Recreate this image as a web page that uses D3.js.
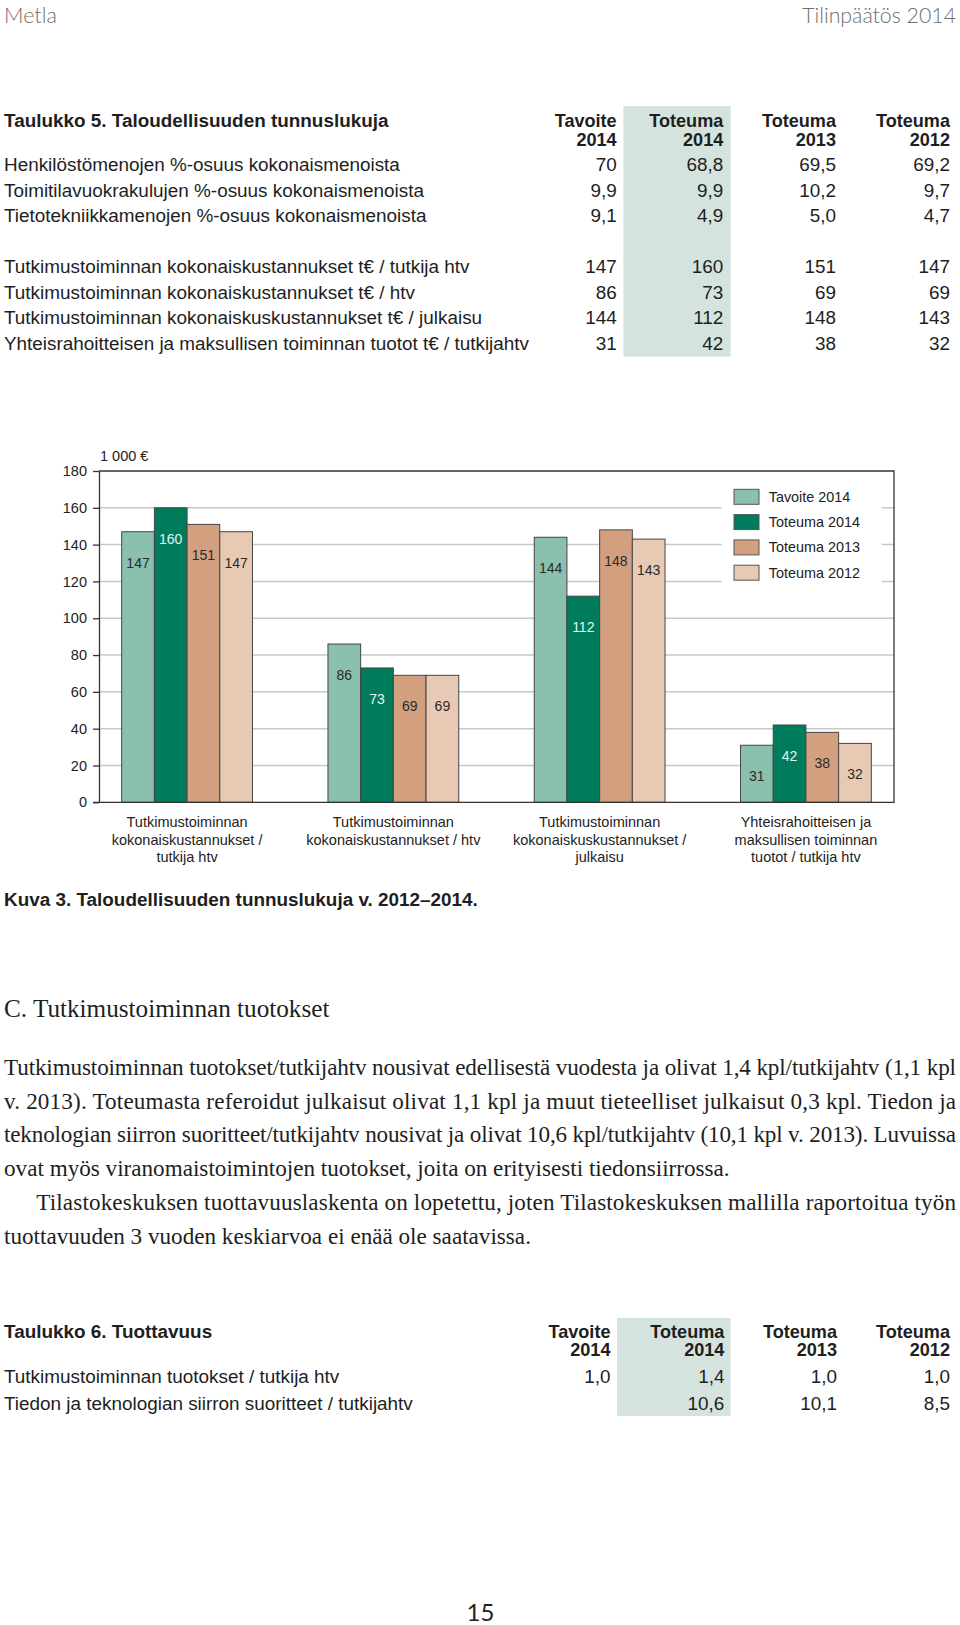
<!DOCTYPE html>
<html><head><meta charset="utf-8">
<script src="https://cdn.jsdelivr.net/npm/d3@7/dist/d3.min.js"></script>
<style>body{margin:0;background:#fff}svg{display:block}</style>
</head><body>
<svg id="page" width="960" height="1625"></svg>
<script>
// ---------- DATA ----------
const categories = [
  ["Tutkimustoiminnan","kokonaiskustannukset /","tutkija htv"],
  ["Tutkimustoiminnan","kokonaiskustannukset / htv"],
  ["Tutkimustoiminnan","kokonaiskuskustannukset /","julkaisu"],
  ["Yhteisrahoitteisen ja","maksullisen toiminnan","tuotot / tutkija htv"]
];
const seriesNames = ["Tavoite 2014","Toteuma 2014","Toteuma 2013","Toteuma 2012"];
const tavoite2014 = [147, 86, 144, 31];
const toteuma2014 = [160, 73, 112, 42];
const toteuma2013 = [151, 69, 148, 38];
const toteuma2012 = [147, 69, 143, 32];
const yTicks = [0,20,40,60,80,100,120,140,160,180];
const yUnit = "1 000 €";
const seriesColors = ["#8bbfae","#007b5c","#d3a07f","#e8cab4"];
const labelColors = ["#2a2a2a","#e2f6f0","#2a2a2a","#2a2a2a"];

const table5Title = "Taulukko 5. Taloudellisuuden tunnuslukuja";
const tableHeader = [["Tavoite","2014"],["Toteuma","2014"],["Toteuma","2013"],["Toteuma","2012"]];
const table5Labels = [
  "Henkilöstömenojen %-osuus kokonaismenoista",
  "Toimitilavuokrakulujen %-osuus kokonaismenoista",
  "Tietotekniikkamenojen %-osuus kokonaismenoista",
  null,
  "Tutkimustoiminnan kokonaiskustannukset t€ / tutkija htv",
  "Tutkimustoiminnan kokonaiskustannukset t€ / htv",
  "Tutkimustoiminnan kokonaiskuskustannukset t€ / julkaisu",
  "Yhteisrahoitteisen ja maksullisen toiminnan tuotot t€ / tutkijahtv"
];
const table5Values = [
  ["70","68,8","69,5","69,2"],
  ["9,9","9,9","10,2","9,7"],
  ["9,1","4,9","5,0","4,7"],
  null,
  ["147","160","151","147"],
  ["86","73","69","69"],
  ["144","112","148","143"],
  ["31","42","38","32"]
];
const table6Title = "Taulukko 6. Tuottavuus";
const table6Labels = [
  "Tutkimustoiminnan tuotokset / tutkija htv",
  "Tiedon ja teknologian siirron suoritteet / tutkijahtv"
];
const table6Values = [
  ["1,0","1,4","1,0","1,0"],
  ["","10,6","10,1","8,5"]
];
const figCaption = "Kuva 3. Taloudellisuuden tunnuslukuja v. 2012–2014.";
const sectionTitle = "C. Tutkimustoiminnan tuotokset";
const bodyLines = [
  {t:"Tutkimustoiminnan tuotokset/tutkijahtv nousivat edellisestä vuodesta ja olivat 1,4 kpl/tutkijahtv (1,1 kpl", just:true, indent:false},
  {t:"v. 2013). Toteumasta referoidut julkaisut olivat 1,1 kpl ja muut tieteelliset julkaisut 0,3 kpl. Tiedon ja", just:true, indent:false},
  {t:"teknologian siirron suoritteet/tutkijahtv nousivat ja olivat 10,6 kpl/tutkijahtv (10,1 kpl v. 2013). Luvuissa", just:true, indent:false},
  {t:"ovat myös viranomaistoimintojen tuotokset, joita on erityisesti tiedonsiirrossa.", just:false, indent:false},
  {t:"Tilastokeskuksen tuottavuuslaskenta on lopetettu, joten Tilastokeskuksen mallilla raportoitua työn", just:true, indent:true},
  {t:"tuottavuuden 3 vuoden keskiarvoa ei enää ole saatavissa.", just:false, indent:false}
];

// ---------- PAGE ----------
const svg = d3.select("#page");
const SANS = "'Liberation Sans', Arial, Helvetica, sans-serif";
const NARROW = "'Liberation Sans Narrow', 'Arial Narrow', 'Liberation Sans', sans-serif";
const SERIF = "'Liberation Serif', 'Times New Roman', serif";
const TXT = "#1e1e1e";

// Running header
svg.append("text").attr("x",4).attr("y",22.7).text("Metla")
  .style("font-family","Lato, 'Open Sans', sans-serif").style("font-weight",300)
  .style("font-size","21.5px").attr("fill","#6e6e6e");
svg.append("text").attr("x",956).attr("y",22.7).attr("text-anchor","end").text("Tilinpäätös 2014")
  .style("font-family","Lato, 'Open Sans', sans-serif").style("font-weight",300)
  .style("font-size","21.3px").attr("fill","#6e6e6e");

// Tables
function drawTable(cfg){
  const g = svg.append("g");
  g.append("rect").attr("x",cfg.shade[0]).attr("y",cfg.shade[1])
    .attr("width",cfg.shade[2]-cfg.shade[0]).attr("height",cfg.shade[3]-cfg.shade[1])
    .attr("fill","#d5e3de");
  g.append("text").attr("x",4).attr("y",cfg.titleY).text(cfg.title)
    .style("font-family",SANS).style("font-weight","bold").style("font-size","18.9px").attr("fill",TXT);
  tableHeader.forEach((h,i)=>{
    h.forEach((s,j)=>{
      g.append("text").attr("x",cfg.cols[i]).attr("y",cfg.titleY + j*18.7)
        .attr("text-anchor","end").text(s)
        .style("font-family",SANS).style("font-weight","bold").style("font-size","18.1px").attr("fill",TXT);
    });
  });
  cfg.labels.forEach((lab,r)=>{
    if(lab===null) return;
    const yy = cfg.rowY0 + r*cfg.rowStep;
    g.append("text").attr("x",4).attr("y",yy).text(lab)
      .style("font-family",SANS).style("font-size","18.9px").attr("fill",TXT);
    cfg.values[r].forEach((v,i)=>{
      g.append("text").attr("x",cfg.cols[i]).attr("y",yy).attr("text-anchor","end").text(v)
        .style("font-family",SANS).style("font-size","18.9px").attr("fill",TXT);
    });
  });
}
drawTable({title:table5Title, titleY:127, cols:[616.7,723.3,836,950], shade:[623.4,106,730.7,356.6],
  labels:table5Labels, values:table5Values, rowY0:171.3, rowStep:25.5});
drawTable({title:table6Title, titleY:1337.5, cols:[610.5,724.4,837,950], shade:[617,1318,730.5,1416],
  labels:table6Labels, values:table6Values, rowY0:1383, rowStep:26.8});

// ---------- CHART ----------
const pLeft = 99, pRight = 894, pTop = 471, pBottom = 802.3;
const x0 = d3.scaleBand().domain(d3.range(categories.length)).range([pLeft,pRight])
  .paddingInner(0.366).paddingOuter(0.11);
const x1 = d3.scaleBand().domain(seriesNames).range([0,x0.bandwidth()]);
const y = d3.scaleLinear().domain([0,180]).range([pBottom,pTop]);
const seriesValues = [tavoite2014, toteuma2014, toteuma2013, toteuma2012];
const color = d3.scaleOrdinal().domain(seriesNames).range(seriesColors);

const chart = svg.append("g");
// gridlines
chart.append("g").selectAll("line").data(yTicks.filter(t=>t>0 && t<180)).join("line")
  .attr("x1",pLeft).attr("x2",pRight).attr("y1",d=>y(d)).attr("y2",d=>y(d))
  .attr("stroke","#c8c8c8").attr("stroke-width",1.5);
// legend background
const legX = 721.7, legY = pTop+1;
chart.append("rect").attr("x",legX).attr("y",legY).attr("width",160).attr("height",111).attr("fill","#fff");

// bars
const barData = [];
categories.forEach((c,ci)=>seriesNames.forEach((s,si)=>barData.push({ci,si,s,v:seriesValues[si][ci]})));
chart.append("g").selectAll("rect").data(barData).join("rect")
  .attr("x",d=>x0(d.ci)+x1(d.s)).attr("width",x1.bandwidth())
  .attr("y",d=>y(d.v)).attr("height",d=>y(0)-y(d.v))
  .attr("fill",d=>color(d.s)).attr("stroke","#454545").attr("stroke-width",1);
chart.append("g").selectAll("text").data(barData).join("text")
  .attr("x",d=>x0(d.ci)+x1(d.s)+x1.bandwidth()/2).attr("y",d=>y(d.v)+36)
  .attr("text-anchor","middle").text(d=>d.v)
  .style("font-family",NARROW).style("font-size","14px").attr("fill",d=>labelColors[d.si]);

// axis
const yAxis = d3.axisLeft(y).tickValues(yTicks).tickSize(6).tickSizeOuter(0).tickPadding(6);
const ag = chart.append("g").attr("transform",`translate(${pLeft},0)`).call(yAxis);
ag.select(".domain").attr("stroke","#333").attr("stroke-width",1.3);
ag.selectAll(".tick line").attr("stroke","#333").attr("stroke-width",1.3);
ag.selectAll(".tick text").style("font-family",SANS).style("font-size","14.5px").attr("fill","#222");
// frame
chart.append("path").attr("d",`M${pLeft},${pTop}H${pRight}V${pBottom}H${pLeft-6}`)
  .attr("fill","none").attr("stroke","#333").attr("stroke-width",1.3);
chart.append("text").attr("x",pLeft+1).attr("y",461).text(yUnit)
  .style("font-family",SANS).style("font-size","14.5px").attr("fill","#222");

// category labels
const cl = chart.append("g").selectAll("text").data(categories).join("text")
  .attr("text-anchor","middle")
  .style("font-family",SANS).style("font-size","14.5px").attr("fill","#222");
cl.each(function(d,i){
  const t = d3.select(this);
  d.forEach((line,j)=>t.append("tspan").attr("x",x0(i)+x0.bandwidth()/2).attr("y",827+j*17.5).text(line));
});

// legend
const lg = chart.append("g").selectAll("g").data(seriesNames).join("g")
  .attr("transform",(d,i)=>`translate(734,${489.3+i*25.3})`);
lg.append("rect").attr("width",25).attr("height",15).attr("fill",d=>color(d)).attr("stroke","#555").attr("stroke-width",1);
lg.append("text").attr("x",34.7).attr("y",12.5).text(d=>d)
  .style("font-family",SANS).style("font-size","14.4px").attr("fill","#222");

// caption
svg.append("text").attr("x",4).attr("y",906).text(figCaption)
  .style("font-family",SANS).style("font-weight","bold").style("font-size","18.9px").attr("fill",TXT);

// section text
svg.append("text").attr("x",4).attr("y",1016.7).text(sectionTitle)
  .style("font-family",SERIF).style("font-size","25.2px").attr("fill",TXT);
bodyLines.forEach((l,i)=>{
  const xs = l.indent ? 36.3 : 4;
  const t = svg.append("text").attr("x",xs).attr("y",1075+i*33.7).text(l.t)
    .style("font-family",SERIF).style("font-size","23.15px").attr("fill",TXT);
  if(l.just) t.attr("textLength",956-xs).attr("lengthAdjust","spacing");
});

// page number
svg.append("text").attr("x",480.5).attr("y",1620.5).attr("text-anchor","middle").text("15")
  .style("font-family","Lato, 'Open Sans', sans-serif").style("font-size","24px").attr("fill","#222");
</script>
</body></html>
